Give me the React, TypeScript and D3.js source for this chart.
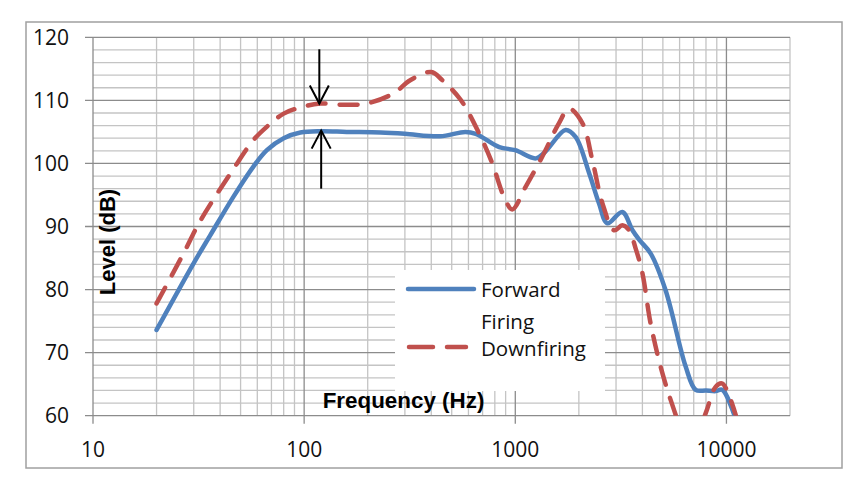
import React from "react";
import * as d3 from "d3";

// ── Data ──────────────────────────────────────────────────────────────────────

const X_TICKS = [10, 100, 1000, 10000];
const Y_TICKS = [60, 70, 80, 90, 100, 110, 120];

const FORWARD: [number, number][] = [
  [20, 73.6], [30, 84.2], [35.9, 88.6], [46.2, 94.7], [57.5, 99.5], [66.6, 102.1],
  [80, 104], [96, 104.9], [120, 105.1], [159, 105], [230, 104.9], [300, 104.7],
  [440, 104.3], [580, 105], [650, 104.7], [840, 102.6], [1000, 102.1], [1250, 100.8],
  [1390, 101.9], [1730, 105.3], [1930, 104.2], [2240, 98.4], [2490, 93.7],
  [2730, 90.5], [3210, 92.3], [3590, 89.4], [3860, 87.9], [4380, 85.7],
  [5150, 79.9], [6410, 67.8], [7150, 64.1], [8000, 64], [8900, 63.9],
  [9550, 64.1], [10900, 60.1],
];

const DOWNFIRING: [number, number][] = [
  [20, 77.8], [26.8, 85.7], [32.1, 90.8], [46.2, 99.1], [57.5, 103.7],
  [66.5, 105.8], [80, 107.9], [99, 109], [119, 109.5], [153, 109.3], [198, 109.5],
  [265, 111.1], [318, 113.2], [400, 114.5], [451, 113.2], [551, 110.1],
  [673, 104.8], [778, 100], [884, 94.7], [967, 92.7], [1119, 96.3], [1343, 101.1],
  [1611, 106.4], [1796, 108.7], [2078, 106.4], [2318, 100.5], [2585, 93.7],
  [2937, 89.4], [3213, 90.2], [3458, 89.4], [3717, 86.5], [4000, 82.6],
  [4375, 74.6], [4977, 66.7], [5754, 60.1], [6700, 54], [7976, 60.4],
  [8898, 64.6], [9568, 65.1], [11070, 60.1],
];

// arrows pointing at the two curves near 120 Hz
const ARROWS = [
  { freq: 118, from: 118.1, to: 109.5 },
  { freq: 120.4, from: 96, to: 105.2 },
];

const SERIES = [
  { name: ["Forward", "Firing"], data: FORWARD, color: "#4F81BD", dash: undefined },
  { name: ["Downfiring"], data: DOWNFIRING, color: "#C0504D", dash: "18 14" },
];

// ── Layout ────────────────────────────────────────────────────────────────────

const W = 864;
const H = 487;
const plot = { left: 93, right: 790, top: 37.3, bottom: 415.7 };
const NUM_FONT = "'Open Sans', sans-serif";
const TITLE_FONT = "'Liberation Sans', Arial, sans-serif";

export default function App() {
  const x = d3.scaleLog().domain([10, 20000]).range([plot.left, plot.right]);
  const y = d3.scaleLinear().domain([60, 120]).range([plot.bottom, plot.top]);

  const minorX: number[] = [];
  X_TICKS.forEach((d) => {
    for (let m = 2; m <= 9; m++) if (d * m <= 20000) minorX.push(d * m);
  });
  const minorY = d3.range(62, 120, 2).filter((v) => v % 10 !== 0);

  const line = d3
    .line<[number, number]>()
    .x((d) => x(d[0]))
    .y((d) => y(d[1]))
    .curve(d3.curveCatmullRom.alpha(0.5));

  const minorStroke = "#c4c4c4";
  const majorStroke = "#8c8c8c";

  return (
    <svg
      width={W}
      height={H}
      style={{ position: "fixed", left: 0, top: 0, background: "#fff" }}
    >
      <defs>
        <clipPath id="plot-clip">
          <rect
            x={plot.left}
            y={plot.top}
            width={plot.right - plot.left}
            height={plot.bottom - plot.top}
          />
        </clipPath>
      </defs>

      {/* chart border */}
      <rect x={26} y={22} width={816} height={446} fill="#fff" stroke="#a0a0a0" strokeWidth={1.5} />

      {/* minor grid */}
      {minorY.map((v) => (
        <line key={`my${v}`} x1={plot.left} x2={plot.right} y1={y(v)} y2={y(v)} stroke={minorStroke} strokeWidth={1.3} />
      ))}
      {minorX.map((v) => (
        <line key={`mx${v}`} x1={x(v)} x2={x(v)} y1={plot.top} y2={plot.bottom} stroke={minorStroke} strokeWidth={1.3} />
      ))}

      {/* major grid + ticks */}
      {Y_TICKS.map((v) => (
        <g key={`y${v}`}>
          <line x1={plot.left - 8} x2={plot.right} y1={y(v)} y2={y(v)} stroke={majorStroke} strokeWidth={1.3} />
          <text
            x={69}
            y={y(v)}
            dy="0.36em"
            textAnchor="end"
            fontFamily={NUM_FONT}
            fontSize={21}
            fill="#111"
          >
            {v}
          </text>
        </g>
      ))}
      {X_TICKS.map((v) => (
        <g key={`x${v}`}>
          <line x1={x(v)} x2={x(v)} y1={plot.top} y2={plot.bottom + 8} stroke={majorStroke} strokeWidth={1.3} />
          <text
            x={x(v)}
            y={456.7}
            textAnchor="middle"
            fontFamily={NUM_FONT}
            fontSize={21}
            fill="#111"
          >
            {v}
          </text>
        </g>
      ))}

      {/* axis titles */}
      <text
        transform="translate(115,242) rotate(-90)"
        textAnchor="middle"
        fontFamily={TITLE_FONT}
        fontWeight="bold"
        fontSize={22}
        fill="#000"
      >
        Level (dB)
      </text>
      <text
        x={403.5}
        y={408.3}
        textAnchor="middle"
        fontFamily={TITLE_FONT}
        fontWeight="bold"
        fontSize={22.4}
        fill="#000"
      >
        Frequency (Hz)
      </text>

      {/* series */}
      <g clipPath="url(#plot-clip)">
        {SERIES.map((s) => (
          <path
            key={s.name[0]}
            d={line(s.data) ?? ""}
            fill="none"
            stroke={s.color}
            strokeWidth={4.5}
            strokeDasharray={s.dash}
            strokeLinecap="round"
            strokeLinejoin="round"
          />
        ))}
      </g>

      {/* arrows */}
      {ARROWS.map((a, i) => {
        const ax = x(a.freq);
        const y0 = y(a.from);
        const y1 = y(a.to);
        const dir = y1 > y0 ? 1 : -1;
        return (
          <g key={i} stroke="#000" strokeWidth={2} fill="none">
            <line x1={ax} x2={ax} y1={y0} y2={y1} />
            <polyline
              points={`${ax - 9.5},${y1 - dir * 18} ${ax},${y1} ${ax + 9.5},${y1 - dir * 18}`}
            />
          </g>
        );
      })}

      {/* legend */}
      <rect x={395} y={270} width={210} height={121} fill="#fff" />
      <line x1={408} x2={474} y1={289} y2={289} stroke={SERIES[0].color} strokeWidth={4.5} strokeLinecap="round" />
      <line
        x1={409}
        x2={466}
        y1={347}
        y2={347}
        stroke={SERIES[1].color}
        strokeWidth={4.5}
        strokeLinecap="round"
        strokeDasharray="24 14"
      />
      <g fontFamily={NUM_FONT} fontSize={20.5} fill="#111">
        <text x={481} y={297}>{SERIES[0].name[0]}</text>
        <text x={481} y={329}>{SERIES[0].name[1]}</text>
        <text x={481} y={356}>{SERIES[1].name[0]}</text>
      </g>
    </svg>
  );
}
